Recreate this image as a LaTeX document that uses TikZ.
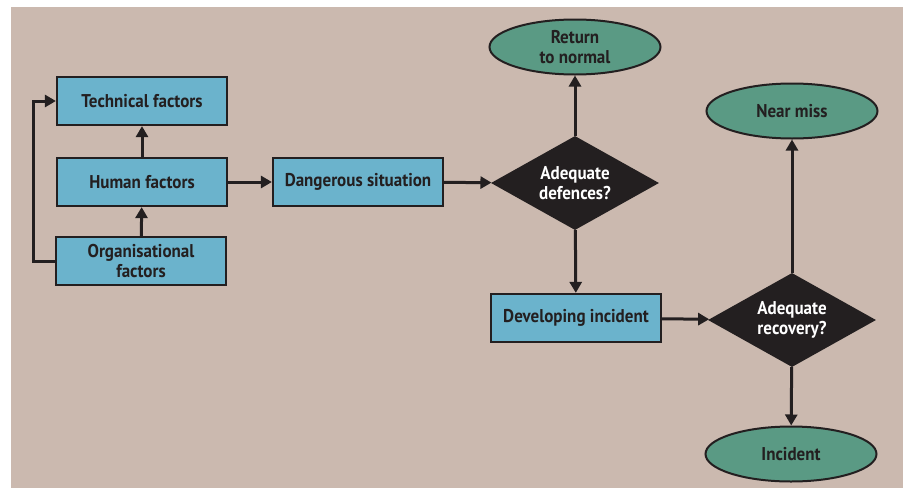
\documentclass[tikz,border=0pt]{standalone}
\usepackage{fontspec}
\setmainfont{PT Sans}[FakeStretch=0.92]
\usetikzlibrary{shapes.geometric,arrows.meta}
\definecolor{bgtan}{HTML}{CBB9AF}
\definecolor{boxblue}{HTML}{6BB3CC}
\definecolor{endgreen}{HTML}{5A9A84}
\definecolor{ink}{HTML}{231F20}
\begin{document}
\begin{tikzpicture}[x=1pt, y=-1pt,
        every node/.style={font=\fontsize{18.5}{19.5}\selectfont\bfseries, align=center},
        factor/.style={rectangle, draw=ink, line width=2.2pt, fill=boxblue, text=ink,
            minimum width=170pt, minimum height=48pt, inner sep=0pt},
        decision/.style={diamond, aspect=1.8, fill=ink, text=white, inner sep=0pt,
            minimum width=168pt, minimum height=94pt},
        outcome/.style={ellipse, draw=ink, line width=2pt, fill=endgreen, text=ink,
            minimum width=171pt, minimum height=55pt, inner sep=0pt},
        arr/.style={draw=ink, line width=3pt, -{Triangle[length=11pt, width=12pt]}}]
            \useasboundingbox (0,0) rectangle (906,488);
            \fill[bgtan] (11,7) rectangle (903,488);
            % left boxes
            \node[factor] (tech) at (142, 101) {Technical factors};
            \node[factor] (human) at (142, 182) {Human factors};
            \node[factor] (org) at (141, 261) {Organisational\\factors};
            \node[factor] (danger) at (358, 182) {Dangerous situation};
            \node[factor] (develop) at (576, 318) {Developing incident};
            % decisions
            \node[decision] (defences) at (575, 183) {Adequate\\defences?};
            \node[decision] (recovery) at (792, 320) {Adequate\\recovery?};
            % outcomes
            \node[outcome] (normal) at (575, 47) {Return\\to normal};
            \node[outcome] (nearmiss) at (792, 111) {Near miss};
            \node[outcome] (incident) at (791, 454) {Incident};
            % connectors
            \coordinate (loop) at (33, 182);
            \draw[arr] (org.west) -| (loop) |- (tech.west);
            \draw[arr] (org) -- (human);
            \draw[arr] (human) -- (tech);
            \draw[arr] (human) -- (danger);
            \draw[arr] (danger) -- (defences);
            \draw[arr] (defences) -- (normal);
            \draw[arr] (defences) -- (develop);
            \draw[arr] (develop) -- (recovery);
            \draw[arr] (recovery) -- (nearmiss);
            \draw[arr] (recovery) -- (incident);
        \end{tikzpicture}
\end{document}
